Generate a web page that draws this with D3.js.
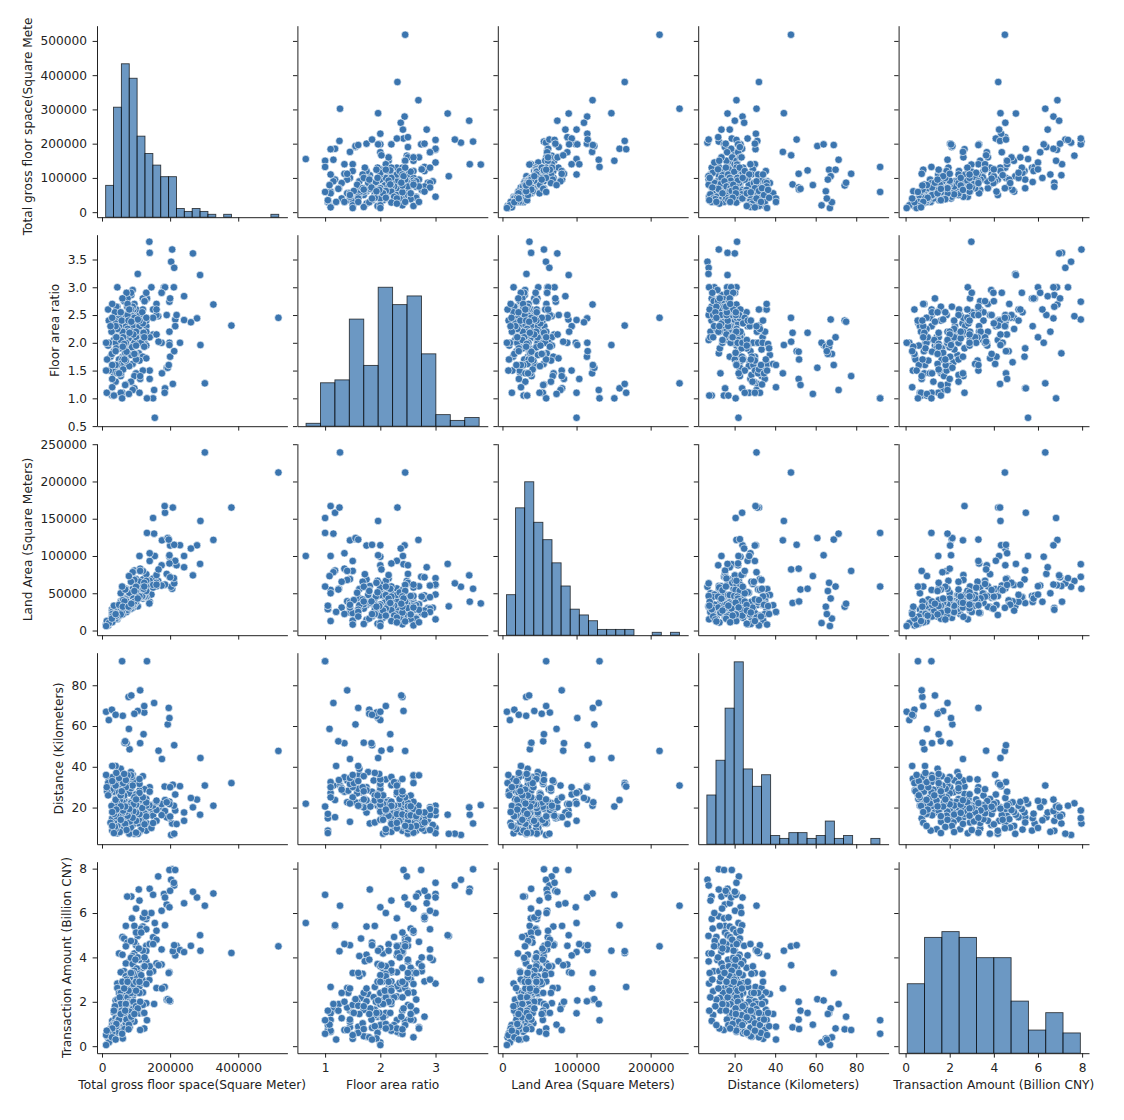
<!DOCTYPE html>
<html>
<head>
<meta charset="utf-8">
<script src="https://cdn.jsdelivr.net/npm/d3@7"></script>
<style>
  body { margin: 0; background: #fff; }
  svg text { font-family: "DejaVu Sans", sans-serif; }
</style>
</head>
<body>
<svg id="chart" width="1124" height="1120"></svg>
<script>
// ---------------- DATA ----------------
const labels = [
  "Total gross floor space(Square Meter)",
  "Floor area ratio",
  "Land Area (Square Meters)",
  "Distance (Kilometers)",
  "Transaction Amount (Billion CNY)"
];

// each row: [gross floor space, floor area ratio, land area, distance, transaction amount]
const plotsHighAmount = [
  [206000,3.68,56000,12.2,7.97],[198000,2.74,72000,14.8,7.94],[215000,2.42,89000,18.6,7.94],
  [165000,2.48,66500,22.1,7.65],[203000,3.46,58700,6.6,7.50],[212000,3.35,63300,7.2,7.24],
  [211000,3.00,70300,20.9,7.36],[108000,1.81,59700,12.2,7.06],[140000,3.62,38700,16.5,7.09],
  [327000,2.69,121600,20.9,6.88],[86000,2.86,30100,13.5,6.74],[182000,3.00,60700,16.3,6.86],
  [279000,2.44,114300,23.9,6.70],[74000,2.65,27900,8.6,6.74],[110000,2.20,50000,8.1,6.56],
  [190000,2.50,76000,15.2,6.38],[241000,2.84,84900,17.6,6.44],[198000,2.00,99000,22.9,6.26],
  [302000,1.27,239000,30.8,6.33],[130000,2.80,46400,8.7,5.73],[132000,2.80,47100,12.2,5.85],
  [88000,2.30,38300,14.8,5.76],[95000,1.18,80500,15.3,5.42],[120000,1.75,68600,17.6,5.39],
  [155000,0.65,100000,21.9,5.55],[185000,1.18,158000,23.7,5.45],[120000,2.80,42900,17.0,5.80],
  [100000,2.60,38500,13.8,6.20],[145000,3.00,48300,10.0,6.00],[115000,2.55,45100,9.2,5.30],
  [175000,2.90,60300,20.2,6.10],[185000,3.00,61700,18.3,6.70],[200000,2.80,71400,15.6,7.00],
  [125000,2.10,59500,23.3,6.00],[150000,1.00,151000,20.5,6.82],[267000,3.61,74000,20.1,6.96],
  [70000,1.90,36800,12.7,5.42],[130000,2.90,44800,19.3,5.27]
];

const plotsUpperMidAmount = [
  [105000,3.24,32400,7.1,4.97],[60000,2.25,26700,11.0,4.92],[100000,2.60,38500,15.3,5.12],
  [288000,3.22,89400,16.5,5.00],[150000,2.45,61200,17.9,4.91],[115000,2.40,47900,20.9,5.12],
  [65000,1.65,39400,22.6,4.85],[219000,2.50,87600,11.9,4.52],[150000,2.15,69800,16.0,4.59],
  [130000,2.30,56500,19.3,4.52],[75000,1.85,40500,21.7,4.67],[261000,2.37,110000,24.7,4.52],
  [229000,2.00,114500,30.5,4.33],[100000,1.45,69000,32.5,4.55],[95000,2.05,46300,7.2,4.18],
  [50000,2.40,20800,8.6,4.18],[241000,2.41,100000,13.5,4.24],[175000,2.90,60300,16.3,4.36],
  [130000,2.40,54200,20.1,4.29],[60000,1.75,34300,22.4,4.12],[215000,2.30,93500,26.4,4.09],
  [90000,1.62,55600,36.1,4.06],[380000,2.31,165000,32.0,4.20],[208000,1.26,165000,31.2,4.28],
  [80000,2.50,32000,7.2,3.82],[90000,2.95,30500,11.5,3.88],[160000,2.70,59300,13.5,3.73],
  [70000,2.20,31800,18.4,3.73],[175000,2.00,87500,21.7,3.68],[65000,2.75,23600,9.7,3.38],
  [150000,2.60,57700,12.4,3.38],[120000,2.40,50000,14.3,3.53],[55000,2.30,23900,18.4,3.33],
  [198000,2.20,90000,21.7,3.33],[140000,1.50,93300,30.0,3.30],[95000,2.55,37300,25.9,3.53],
  [110000,2.50,44000,16.8,3.90],[85000,2.90,29300,19.3,3.98],[130000,1.72,75600,24.2,3.83],
  [95000,2.70,35200,14.3,4.70],[85000,2.45,34700,10.2,4.74],[100000,2.60,38500,7.7,3.30],
  [120000,2.15,55800,19.5,4.30],[160000,2.50,64000,18.8,4.80],[105000,2.35,44700,21.8,4.00],
  [90000,1.95,46200,23.2,3.70],[102000,2.05,49800,21.2,3.50],[125000,2.75,45500,17.2,3.60],
  [140000,2.10,66700,20.0,3.60],[125000,2.00,62500,29.0,3.60],[140000,1.35,103700,27.8,4.60],
  [108000,2.00,54000,14.0,4.40],[125000,2.75,45500,11.8,4.00],[70000,2.30,30400,9.9,4.50],
  [150000,2.45,61200,21.0,4.60],[160000,2.60,61500,22.8,5.20],[98000,1.80,54400,20.4,3.90],
  [95000,2.20,43200,18.6,3.40],[110000,1.68,65500,28.3,3.26],[80000,2.10,38100,33.8,3.26]
];

const plotsLowerMidAmount = [
  [45000,3.00,15000,7.4,2.82],[75000,2.80,26800,12.7,2.92],[130000,2.20,59100,15.7,2.92],
  [60000,2.05,29300,19.3,2.92],[139000,3.82,36400,21.2,2.98],[55000,2.50,22000,9.4,2.47],
  [100000,2.35,42600,13.5,2.58],[45000,2.45,18400,15.2,2.62],[85000,2.20,38600,18.4,2.52],
  [160000,2.15,74400,23.4,2.62],[184000,1.10,167000,30.3,2.67],[70000,1.90,36800,26.7,2.67],
  [95000,1.40,67900,33.3,2.62],[85000,1.78,47800,37.4,2.35],[120000,2.60,46200,35.4,2.42],
  [40000,2.05,19500,15.2,2.06],[90000,2.30,39100,17.6,2.24],[190000,1.55,122600,22.6,2.09],
  [60000,1.65,36400,27.5,2.17],[200000,1.75,114000,30.0,2.02],[65000,1.88,34600,33.3,2.21],
  [65000,2.50,26000,14.3,2.40],[110000,2.30,47800,16.8,2.70],[50000,1.70,29400,20.1,2.40],
  [95000,2.00,47500,24.2,2.40],[130000,1.95,66700,20.9,1.94],[60000,2.20,27300,12.7,2.17],
  [100000,2.10,47600,17.6,3.15],[70000,1.62,43200,20.9,3.15],[120000,2.35,51100,24.2,2.85],
  [55000,1.42,38700,28.3,2.40],[110000,2.00,55000,31.6,2.40],[45000,2.65,17000,11.0,2.10],
  [78000,2.12,36800,19.0,2.00],[88000,2.18,40400,20.3,2.60],[72000,2.10,34300,22.8,2.30],
  [118000,2.55,46300,19.8,3.00],[92000,2.60,35400,18.2,2.80],[58000,2.40,24200,16.6,2.20],
  [82000,2.50,32800,13.2,3.10],[68000,2.20,30900,12.0,2.60],[72000,2.90,24800,9.0,3.00],
  [52000,2.10,24800,8.0,2.20],[115000,2.00,57500,24.0,3.20],[88000,1.92,45800,23.0,2.00],
  [75000,2.25,33300,21.0,2.20],[130000,2.45,53100,22.5,2.80],[80000,1.58,50600,27.0,2.00],
  [100000,1.95,51300,26.5,2.90],[85000,1.30,65400,29.5,2.40],[75000,2.20,34100,31.0,1.90],
  [88000,2.20,40000,35.0,2.00],[110000,2.40,45800,34.0,2.90],[90000,2.65,34000,15.0,3.30],
  [78000,2.08,37500,17.4,2.50],[60000,2.00,30000,19.6,2.90],[100000,2.20,45500,21.4,2.50],
  [85000,2.50,34000,22.2,3.30],[65000,1.75,37100,23.6,2.60],[75000,2.15,34900,16.0,2.90],
  [92000,2.15,42800,21.6,2.00]
];

const plotsLowAmount = [
  [35000,1.45,24100,13.0,1.61],[70000,2.00,35000,18.0,1.89],[55000,1.40,39300,22.6,1.74],
  [120000,1.50,80000,25.0,1.86],[45000,1.60,28100,29.2,1.82],[90000,1.15,78300,30.8,1.67],
  [60000,1.70,35300,35.4,1.64],[40000,2.10,19000,9.4,1.41],[75000,2.50,30000,20.6,1.18],
  [50000,1.95,25600,22.9,1.33],[110000,1.10,100000,27.2,1.48],[35000,1.50,23300,30.1,1.52],
  [70000,2.00,35000,33.8,1.41],[55000,1.62,34000,39.0,1.45],[30000,1.05,28600,8.7,1.14],
  [95000,2.45,38800,25.0,1.11],[40000,1.30,30800,28.8,1.26],[60000,1.10,54500,32.5,1.18],
  [85000,2.60,32700,35.8,1.18],[30000,1.05,28600,14.7,0.73],[45000,1.60,28100,20.9,0.65],
  [60000,2.20,27300,22.9,0.80],[35000,1.85,18900,27.8,0.83],[55000,1.45,37900,31.6,0.85],
  [75000,2.70,27800,35.8,0.85],[40000,1.60,25000,40.4,0.88],[25000,1.75,14300,28.5,0.42],
  [20000,1.50,13300,34.1,0.33],[30000,1.20,25000,40.4,0.30],[40000,2.35,17000,24.2,0.58],
  [65000,1.90,34200,25.9,1.64],[50000,2.30,21700,27.5,1.18],[70000,1.68,41700,30.0,1.03],
  [45000,2.25,20000,32.5,0.95],[30000,1.35,22200,34.9,0.73],[80000,2.60,30800,19.3,1.56],
  [50000,2.50,20000,16.0,1.86],[35000,2.05,17100,21.7,1.03],[60000,2.80,21400,17.6,1.33],
  [55000,1.10,50000,25.0,0.65],[40000,2.30,17400,30.8,0.65],[48000,2.55,18800,16.2,1.20],
  [62000,2.10,29500,18.5,1.50],[52000,1.90,27400,23.5,1.40],[38000,2.00,19000,21.5,0.90],
  [68000,1.82,37400,20.5,1.70],[42000,2.65,15800,15.8,1.60],[55000,2.05,26800,14.0,1.90],
  [38000,2.55,14900,10.5,1.80],[35000,1.05,33300,7.5,1.60],[45000,1.45,31000,22.0,1.10],
  [28000,2.20,12700,20.8,0.70],[20000,2.40,8300,26.5,0.55],[15000,1.70,8800,28.0,0.45],
  [18000,2.60,6900,32.0,0.40],[25000,2.30,10900,12.5,0.80],[30000,2.45,12200,11.0,0.95],
  [35000,1.05,33300,16.9,0.95],[40000,2.00,20000,23.8,0.95],[55000,2.05,26800,26.0,1.30],
  [58000,2.40,24200,28.0,1.60],[62000,1.52,40800,32.0,1.50],[70000,1.25,56000,33.5,1.90],
  [50000,1.45,34500,34.5,1.20],[65000,1.98,32800,36.5,1.50],[42000,1.90,22100,37.0,0.90],
  [30000,1.60,18800,33.0,0.60],[100000,1.70,58800,24.0,1.80],[55000,2.55,21600,20.6,1.45],
  [42000,2.10,20000,19.0,1.00],[30000,2.70,11100,17.8,0.80],[18000,1.95,9200,26.0,0.60],
  [12000,1.50,8000,36.0,0.50],[14000,1.10,12700,30.0,0.70]
];

const plotsFarAway = [
  [289000,1.96,147000,44.3,4.30],[176000,1.45,121000,43.8,2.60],[518000,2.45,212000,47.8,4.50],
  [166000,2.02,82000,47.9,3.65],[81000,2.18,37000,48.6,0.85],[212000,1.85,115000,50.6,4.55],
  [112000,1.35,83000,51.6,2.00],[72000,1.84,39000,51.6,1.20],[66000,1.70,39000,51.8,0.77],
  [68000,1.24,55000,52.5,1.60],[122000,2.18,56000,56.0,1.50],[79000,1.08,73000,58.6,0.97],
  [193000,1.55,124000,60.8,2.12],[198000,1.96,101000,63.9,2.06],[20000,2.00,10000,62.9,0.17],
  [61000,1.93,32000,65.0,0.35],[124000,1.93,64000,66.6,1.50],[105000,2.42,43000,67.4,1.70],
  [12000,2.00,6000,67.0,0.05],[29000,1.80,16000,68.0,0.40],[196000,1.60,122000,68.9,3.30],
  [124000,2.10,59000,69.8,0.80],[153000,1.15,130000,71.3,1.90],[78000,2.40,32000,74.3,0.76],
  [86000,2.38,36000,75.0,1.33],[112000,1.40,80000,77.5,0.73],[132000,1.00,131000,91.8,1.17],
  [59000,1.00,59000,91.8,0.56],[95000,1.80,53000,66.0,1.45],[40000,1.85,22000,65.5,0.30]
];

// histogram bins (first edge, last edge, counts per bin)
const histStart = [10700, 0.655, 5400, 6.3, 0.076];
const histEnd   = [519000, 3.79, 239000, 91.7, 7.92];
const histGfa   = [11, 38, 53, 48, 28, 22, 18, 14, 14, 3, 2, 3, 2, 1, 0, 1, 0, 0, 0, 0, 0, 1];
const histFar   = [1, 15, 16, 37, 21, 48, 42, 45, 25, 4, 2, 3];
const histLand  = [14, 44, 53, 39, 33, 25, 17, 9, 7, 5, 2, 2, 2, 2, 0, 0, 1, 0, 1];
const histDist  = [17, 29, 47, 63, 26, 20, 24, 3, 2, 4, 4, 2, 3, 8, 2, 3, 0, 0, 2];
const histTrans = [24, 40, 42, 40, 33, 33, 18, 8, 14, 7];

// tick values
const ticksX = [[0, 200000, 400000], [1, 2, 3], [0, 100000, 200000], [20, 40, 60, 80], [0, 2, 4, 6, 8]];
const ticksY = [[0, 100000, 200000, 300000, 400000, 500000],
                [0.5, 1.0, 1.5, 2.0, 2.5, 3.0, 3.5],
                [0, 50000, 100000, 150000, 200000, 250000],
                [20, 40, 60, 80],
                [0, 2, 4, 6, 8]];

// ---------------- DRAW ----------------
const points = [].concat(plotsHighAmount, plotsUpperMidAmount, plotsLowerMidAmount, plotsLowAmount, plotsFarAway);
const hists = [histGfa, histFar, histLand, histDist, histTrans];
const FS = 12.2;
const W = 190.4, H = 191.5;
const colX = i => 97 + 200.4 * i;
const rowY = j => 25.7 + 209 * j;
const POINT = "#3b75af";
const INK = "#222";

const svg = d3.select("#chart");
const n = labels.length;
const domains = histStart.map((s, k) => {
  const e = histEnd[k], p = (e - s) * 0.05;
  return [s - p, e + p];
});
const maxCount = d3.max(hists.flat());
const fmtY = [d3.format("d"), d3.format(".1f"), d3.format("d"), d3.format("d"), d3.format("d")];
const fmtX = [d3.format("d"), d3.format("d"), d3.format("d"), d3.format("d"), d3.format("d")];

const xs = d3.range(n).map(c => d3.scaleLinear().domain(domains[c]).range([colX(c), colX(c) + W]));
const ys = d3.range(n).map(r => d3.scaleLinear().domain(domains[r]).range([rowY(r) + H, rowY(r)]));

const defs = svg.append("defs");
defs.append("clipPath").attr("id", "labelclip")
  .append("rect").attr("x", 0).attr("y", 17.5).attr("width", 1124).attr("height", 1120);
const labelLayer = svg.append("g").attr("clip-path", "url(#labelclip)");

function styleAxis(g) {
  g.attr("font-size", null).attr("font-family", null);
  g.select(".domain").attr("stroke", INK).attr("stroke-width", 1);
  g.selectAll(".tick line").attr("stroke", INK).attr("stroke-width", 1);
  g.selectAll(".tick text").attr("font-size", FS).attr("fill", INK)
    .attr("font-family", "DejaVu Sans, sans-serif");
}

for (let r = 0; r < n; r++) {
  for (let c = 0; c < n; c++) {
    const x = xs[c], y = ys[r];
    if (r === c) {
      const counts = hists[c];
      const s = histStart[c], e = histEnd[c];
      const bw = (e - s) / counts.length;
      const hy = d3.scaleLinear().domain([0, maxCount * 1.05]).range([rowY(r) + H, rowY(r)]);
      const bins = counts.map((v, i) => ({ x0: s + i * bw, x1: s + (i + 1) * bw, v }))
        .filter(b => b.v > 0);
      svg.append("g").selectAll("rect").data(bins).join("rect")
        .attr("x", b => x(b.x0))
        .attr("width", b => x(b.x1) - x(b.x0))
        .attr("y", b => hy(b.v))
        .attr("height", b => hy(0) - hy(b.v))
        .attr("fill", POINT).attr("fill-opacity", 0.75)
        .attr("stroke", "#000").attr("stroke-opacity", 0.72).attr("stroke-width", 0.9);
    } else {
      svg.append("g").selectAll("circle").data(points).join("circle")
        .attr("cx", d => x(d[c]))
        .attr("cy", d => y(d[r]))
        .attr("r", 3.75)
        .attr("fill", POINT)
        .attr("stroke", "#fff").attr("stroke-width", 0.6);
    }
    // left axis
    const ay = d3.axisLeft(y).tickValues(ticksY[r]).tickSize(4.4).tickSizeOuter(0).tickPadding(5.5)
      .tickFormat(c === 0 ? fmtY[r] : () => "");
    const gy = svg.append("g").attr("transform", `translate(${colX(c)},0)`).call(ay);
    styleAxis(gy);
    // bottom axis
    const ax = d3.axisBottom(x).tickValues(ticksX[c]).tickSize(4.4).tickSizeOuter(0).tickPadding(6)
      .tickFormat(r === n - 1 ? fmtX[c] : () => "");
    const gx = svg.append("g").attr("transform", `translate(0,${rowY(r) + H})`).call(ax);
    styleAxis(gx);

    if (c === 0) {
      let minX = colX(0);
      gy.selectAll(".tick text").each(function () {
        const b = this.getBBox();
        minX = Math.min(minX, colX(0) + b.x);
      });
      labelLayer.append("text")
        .attr("transform", `translate(${minX - 8.5},${rowY(r) + H / 2}) rotate(-90)`)
        .attr("text-anchor", "middle")
        .attr("font-size", FS).attr("fill", INK)
        .text(labels[r]);
    }
    if (r === n - 1) {
      svg.append("text")
        .attr("x", colX(c) + W / 2)
        .attr("y", rowY(r) + H + 35.5)
        .attr("text-anchor", "middle")
        .attr("font-size", FS).attr("fill", INK)
        .text(labels[c]);
    }
  }
}
</script>
</body>
</html>
